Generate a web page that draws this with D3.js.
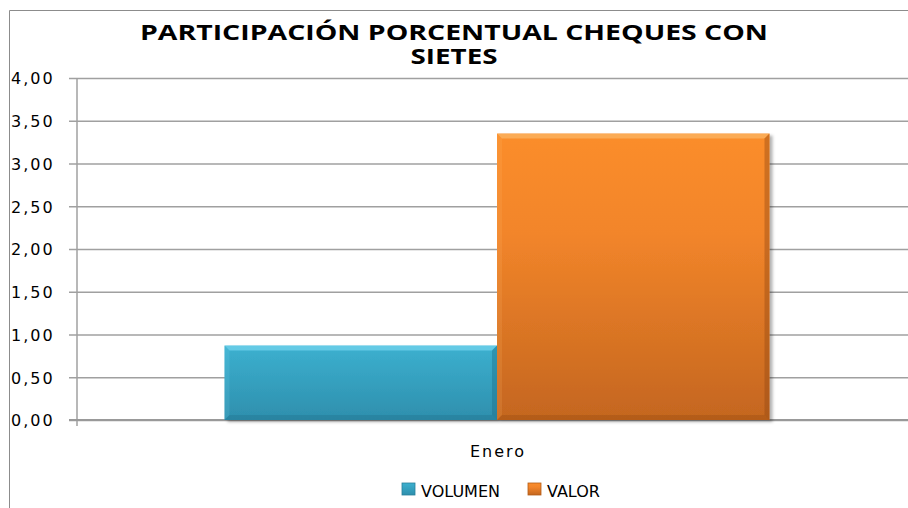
<!DOCTYPE html>
<html>
  <head>
    <meta charset="utf-8">
    <title></title>
  </head>

  <body>
  <style media="screen">
    *{
      box-sizing:border-box;
    }
    body {
      margin:0;
      background:white;
    }
    .tick text, .cat {
      font-family: "DejaVu Sans", Verdana, sans-serif;
      font-size: 16px;
      letter-spacing: 2px;
      fill:#000;
    }
    .legend text {
      font-family: "DejaVu Sans", Verdana, sans-serif;
      font-size: 16px;
      fill:#000;
    }
    .title {
      font-family: "Open Sans", "Liberation Sans", sans-serif;
      font-weight: bold;
      font-size: 21px;
      fill:#000;
    }
  </style>

<svg id="chart1" width="908" height="508"></svg>
    <script src="https://d3js.org/d3.v7.min.js"></script>
    <script type="text/javascript">
    var categories = ['Enero'];
    var series = ['VOLUMEN', 'VALOR'];
    var volumen = [0.87];
    var valor = [3.35];
    var yTicks = [0, 0.5, 1, 1.5, 2, 2.5, 3, 3.5, 4];
    var titleLines = ['PARTICIPACIÓN PORCENTUAL CHEQUES CON', 'SIETES'];

    var svg = d3.select('#chart1');
    var plotLeft = 77, plotRight = 917, plotTop = 78, plotBottom = 420;

    var x = d3.scaleBand().domain(categories).range([plotLeft, plotRight]).paddingInner(0).paddingOuter(0.2706);
    var xs = d3.scaleBand().domain(series).range([0, x.bandwidth()]);
    var y = d3.scaleLinear().domain([0, 4]).range([plotBottom, plotTop]);

    // gradients
    var defs = svg.append('defs');
    function grad(id, stops){
      var g = defs.append('linearGradient').attr('id', id)
        .attr('x1', 0).attr('y1', 0).attr('x2', 0).attr('y2', 1);
      stops.forEach(s => g.append('stop').attr('offset', s[0]).attr('stop-color', s[1]));
    }
    grad('gVol', [[0, '#3cb0cf'], [1, '#2e8fad']]);
    grad('gVal', [[0, '#fb8d2c'], [0.35, '#f2852a'], [1, '#c4661f']]);
    var f = defs.append('filter').attr('id', 'shadow').attr('x', '-5%').attr('y', '-5%').attr('width', '115%').attr('height', '115%');
    f.append('feDropShadow').attr('dx', 3).attr('dy', 2).attr('stdDeviation', 1.5).attr('flood-color', '#000').attr('flood-opacity', 0.3);

    // outer frame
    svg.append('path').attr('d', 'M9.5,520V10.5H920')
      .attr('fill', 'none').attr('stroke', '#8c8c8c').attr('stroke-width', 1);

    // title
    svg.append('text').attr('class', 'title').attr('x', 454).attr('y', 40)
      .attr('text-anchor', 'middle').attr('textLength', 628).attr('lengthAdjust', 'spacingAndGlyphs')
      .text(titleLines[0]);

    // y axis with gridlines
    var yAxis = svg.append('g').attr('transform', 'translate(' + plotLeft + ',0)')
      .call(d3.axisLeft(y).tickValues(yTicks).tickSizeInner(-(908 - plotLeft)).tickSizeOuter(0).tickPadding(0)
        .tickFormat(d => d3.format('.2f')(d).replace('.', ',')));
    yAxis.select('.domain').remove();
    yAxis.selectAll('.tick line').attr('x1', -8).attr('x2', 908 - plotLeft)
      .attr('stroke', '#a0a0a0').attr('stroke-width', 1.5);
    yAxis.selectAll('.tick text').attr('x', 11 - plotLeft).attr('text-anchor', 'start').attr('dy', '0.36em');

    svg.append('line').attr('x1', plotLeft).attr('x2', plotLeft).attr('y1', plotTop).attr('y2', plotBottom + 6)
      .attr('stroke', '#a0a0a0').attr('stroke-width', 1.5);
    svg.append('line').attr('x1', plotLeft - 8).attr('x2', 908).attr('y1', plotBottom).attr('y2', plotBottom)
      .attr('stroke', '#999').attr('stroke-width', 2);

    svg.append('text').attr('class', 'title').attr('x', 454).attr('y', 64)
      .attr('text-anchor', 'middle').attr('textLength', 87).attr('lengthAdjust', 'spacingAndGlyphs')
      .text(titleLines[1]);

    // bars
    var rows = [];
    categories.forEach((c, i) => {
      rows.push({cat: c, s: 'VOLUMEN', v: volumen[i], fill: 'url(#gVol)', hi: '#7fdcf5', lo: '#1f6b84'});
      rows.push({cat: c, s: 'VALOR', v: valor[i], fill: 'url(#gVal)', hi: '#fcbf73', lo: '#8f4612'});
    });

    var bars = svg.selectAll('g.bar').data(rows).enter().append('g').attr('class', 'bar')
      .attr('transform', d => 'translate(' + (x(d.cat) + xs(d.s)) + ',' + y(d.v) + ')');
    bars.append('rect')
      .attr('width', xs.bandwidth()).attr('height', d => plotBottom - y(d.v))
      .attr('fill', d => d.fill).attr('filter', 'url(#shadow)');
    // bevel edges
    var b = 5;
    bars.append('path')
      .attr('d', d => { var w = xs.bandwidth(); return 'M0,0H' + w + 'L' + (w - b) + ',' + b + 'H' + b + 'Z'; })
      .attr('fill', d => d.hi).attr('opacity', 0.6);
    bars.append('path')
      .attr('d', d => { var w = xs.bandwidth(), h = plotBottom - y(d.v); return 'M' + w + ',0V' + h + 'L' + (w - b) + ',' + (h - b) + 'V' + b + 'Z'; })
      .attr('fill', d => d.lo).attr('opacity', 0.4);
    bars.append('path')
      .attr('d', d => { var w = xs.bandwidth(), h = plotBottom - y(d.v); return 'M0,' + h + 'H' + w + 'L' + (w - b) + ',' + (h - b) + 'H' + b + 'Z'; })
      .attr('fill', d => d.lo).attr('opacity', 0.3);
    bars.append('path')
      .attr('d', d => { var h = plotBottom - y(d.v); return 'M0,0V' + h + 'L' + b + ',' + (h - b) + 'V' + b + 'Z'; })
      .attr('fill', d => d.hi).attr('opacity', 0.15);

    // category label
    svg.selectAll('text.cat').data(categories).enter().append('text').attr('class', 'cat')
      .attr('x', d => x(d) + x.bandwidth() / 2 + 1).attr('y', 457).attr('text-anchor', 'middle')
      .text(d => d);

    // legend
    var legendX = [402, 528];
    var legendFill = ['url(#gVol)', 'url(#gVal)'];
    var lg = svg.append('g').attr('class', 'legend').selectAll('g').data(series).enter().append('g')
      .attr('transform', (d, i) => 'translate(' + legendX[i] + ',483)');
    lg.append('rect').attr('width', 13).attr('height', 12).attr('fill', (d, i) => legendFill[i])
      .attr('stroke', (d, i) => i ? '#b35d18' : '#2a7f9b').attr('stroke-width', 0.8);
    lg.append('text').attr('x', 19).attr('y', 14).text(d => d);
    </script>

  </body>
</html>
